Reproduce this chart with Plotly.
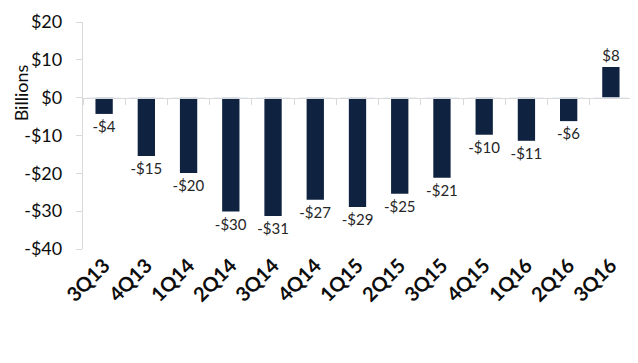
import plotly.graph_objects as go

quarters = ["3Q13", "4Q13", "1Q14", "2Q14", "3Q14", "4Q14", "1Q15", "2Q15",
            "3Q15", "4Q15", "1Q16", "2Q16", "3Q16"]
values = [-4.3, -15.4, -19.9, -30.1, -31.3, -27.0, -28.9, -25.4, -21.2,
          -9.8, -11.4, -6.2, 8.1]
labels = ["-$4", "-$15", "-$20", "-$30", "-$31", "-$27", "-$29", "-$25",
          "-$21", "-$10", "-$11", "-$6", "$8"]
y_ticks = [-40, -30, -20, -10, 0, 10, 20]
y_tick_text = ["-$40", "-$30", "-$20", "-$10", "$0", "$10", "$20"]

FONT = "Lato"
BAR = "#0f2341"
GRID = "#d9d9d9"
y_range = [-40, 20]

fig = go.Figure()
fig.add_trace(go.Bar(
    x=quarters, y=values, text=labels, textposition="outside",
    constraintext="none",
    marker=dict(color=BAR, line=dict(width=0)),
    textfont=dict(family=FONT, size=15, color="#262626"),
    outsidetextfont=dict(family=FONT, size=15, color="#262626"),
    cliponaxis=False, width=0.41,
))
# invisible trace to bind the zero-crossing category axis
fig.add_trace(go.Bar(x=quarters, y=[0] * len(quarters), xaxis="x2",
                     showlegend=False, hoverinfo="skip",
                     marker=dict(color="rgba(0,0,0,0)")))

zero_pos = (0 - y_range[0]) / (y_range[1] - y_range[0])

# page body adds an 8px margin, so the figure is sized to compensate
fig.update_layout(
    width=630, height=355,
    margin=dict(l=75, r=6, t=14, b=114, autoexpand=False),
    plot_bgcolor="white", paper_bgcolor="white",
    showlegend=False, barmode="overlay",
    font=dict(family=FONT, color="#262626"),
    xaxis=dict(
        showline=False, ticks="", showgrid=False, zeroline=False,
        automargin=False,
        tickangle=-45, tickfont=dict(family=FONT, size=20, color="#0d0d0d"),
        tickprefix="<b>", ticksuffix="</b>",
    ),
    xaxis2=dict(
        overlaying="x", anchor="free", position=zero_pos, side="bottom",
        showline=True, linecolor=GRID, linewidth=1.3,
        ticks="outside", tickson="boundaries", ticklen=6, tickcolor=GRID,
        showticklabels=False, showgrid=False, zeroline=False,
        matches="x", automargin=False,
    ),
    yaxis=dict(
        range=y_range, tickvals=y_ticks, ticktext=y_tick_text,
        showline=True, linecolor=GRID, linewidth=1.3,
        ticks="outside", ticklen=6, tickcolor=GRID,
        showgrid=False, zeroline=False, automargin=False,
        ticklabelstandoff=10,
        tickfont=dict(family=FONT, size=18, color="#0d0d0d"),
    ),
    annotations=[dict(
        text="Billions", textangle=-90, showarrow=False,
        xref="paper", yref="paper", x=-0.113, y=0.69,
        xanchor="center", yanchor="middle",
        font=dict(family=FONT, size=18, color="#0d0d0d"),
    )],
)

fig.write_html("out.html")
